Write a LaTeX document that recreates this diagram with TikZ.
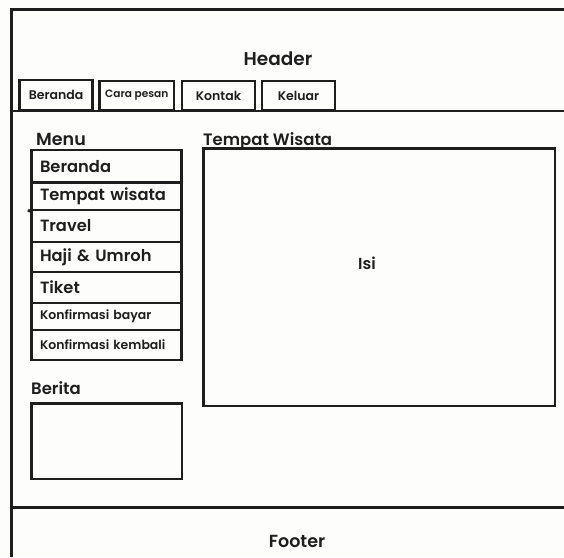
\documentclass[tikz,border=0pt]{standalone}
\usepackage{fontspec}
\setmainfont{Poppins SemiBold}
\definecolor{ink}{HTML}{1E1E1E}
\definecolor{paper}{HTML}{FDFDFC}
\begin{document}
\begin{tikzpicture}[x=1pt,y=-1pt,
  rule/.style={draw=ink,line width=3pt},
  thinrule/.style={draw=ink,line width=2pt},
  box/.style={draw=ink,line width=2.8pt,inner sep=0pt,text=ink},
  tab/.style={box,minimum height=29pt},
  row/.style={box,minimum width=150pt,text width=133pt,inner xsep=8.5pt,align=left,font=\fontsize{16.3}{17}\selectfont},
  smallrow/.style={row,font=\fontsize{12.5}{13}\selectfont},
  label/.style={anchor=base west,inner sep=0pt,text=ink,font=\fontsize{16.5}{18}\selectfont}]
\useasboundingbox[fill=paper] (0,0) rectangle (564,557);

% page frame, tab rule and footer rule
\coordinate (tl) at (11.5,9.5);
\coordinate (tr) at (564,9.5);
\coordinate (bl) at (11.5,557);
\coordinate (nl) at (11.5,111);
\coordinate (nr) at (564,111);
\coordinate (fl) at (11.5,507.5);
\coordinate (fr) at (564,507.5);
\draw[rule] (tr) -- (tl) -- (bl);
\draw[thinrule] (nl) -- (nr);
\draw[rule] (fl) -- (fr);

% header
\node[anchor=base,inner sep=0pt,text=ink,font=\fontsize{18.5}{20}\selectfont] (header) at (278,65) {Header};

% navigation tabs
\node[tab,minimum width=73pt,minimum height=30pt,font=\fontsize{12.5}{14}\selectfont] (tabberanda) at (56,95) {Beranda};
\node[tab,minimum width=74.5pt,font=\fontsize{10.6}{12}\selectfont] (tabcara) at (136.75,95.5) {Cara pesan};
\node[tab,minimum width=73pt,font=\fontsize{12.5}{14}\selectfont] (tabkontak) at (218.5,95.5) {Kontak};
\node[tab,minimum width=73pt,font=\fontsize{12.5}{14}\selectfont] (tabkeluar) at (298.5,95.5) {Keluar};

% side menu
\node[label,font=\fontsize{17.5}{18}\selectfont] (menulabel) at (36,145) {Menu};
\node[row,minimum height=32.5pt] (rberanda) at (106.5,166.25) {Beranda};
\node[row,minimum height=28pt] (rtempat) at (106.5,196) {Tempat wisata};
\node[row,minimum height=32pt] (rtravel) at (106.5,226) {Travel};
\node[row,minimum height=30pt] (rhaji) at (106.5,257) {Haji \& Umroh};
\node[row,minimum height=31pt] (rtiket) at (106.5,287.5) {Tiket};
\node[smallrow,minimum height=27pt] (rbayar) at (106.5,316.5) {Konfirmasi bayar};
\node[smallrow,minimum height=30pt] (rkembali) at (106.5,345) {Konfirmasi kembali};
\coordinate (stub) at (28,210);
\draw[draw=ink,line width=2.8pt] (stub) -- (rtempat.south west);

% news block
\node[label] (beritalabel) at (31,394) {Berita};
\node[box,minimum width=150.5pt,minimum height=75.5pt] (berita) at (106.75,441.25) {};

% main content
\node[label] (contentlabel) at (203,145) {Tempat Wisata};
\node[box,minimum width=351.5pt,minimum height=257.5pt] (content) at (379.25,277.25) {};
\node[inner sep=0pt,text=ink,font=\fontsize{16}{17}\selectfont] (isi) at (367,263) {Isi};

% footer
\node[anchor=base,inner sep=0pt,text=ink,font=\fontsize{17.5}{18}\selectfont] (footer) at (297,547) {Footer};
\end{tikzpicture}
\end{document}
